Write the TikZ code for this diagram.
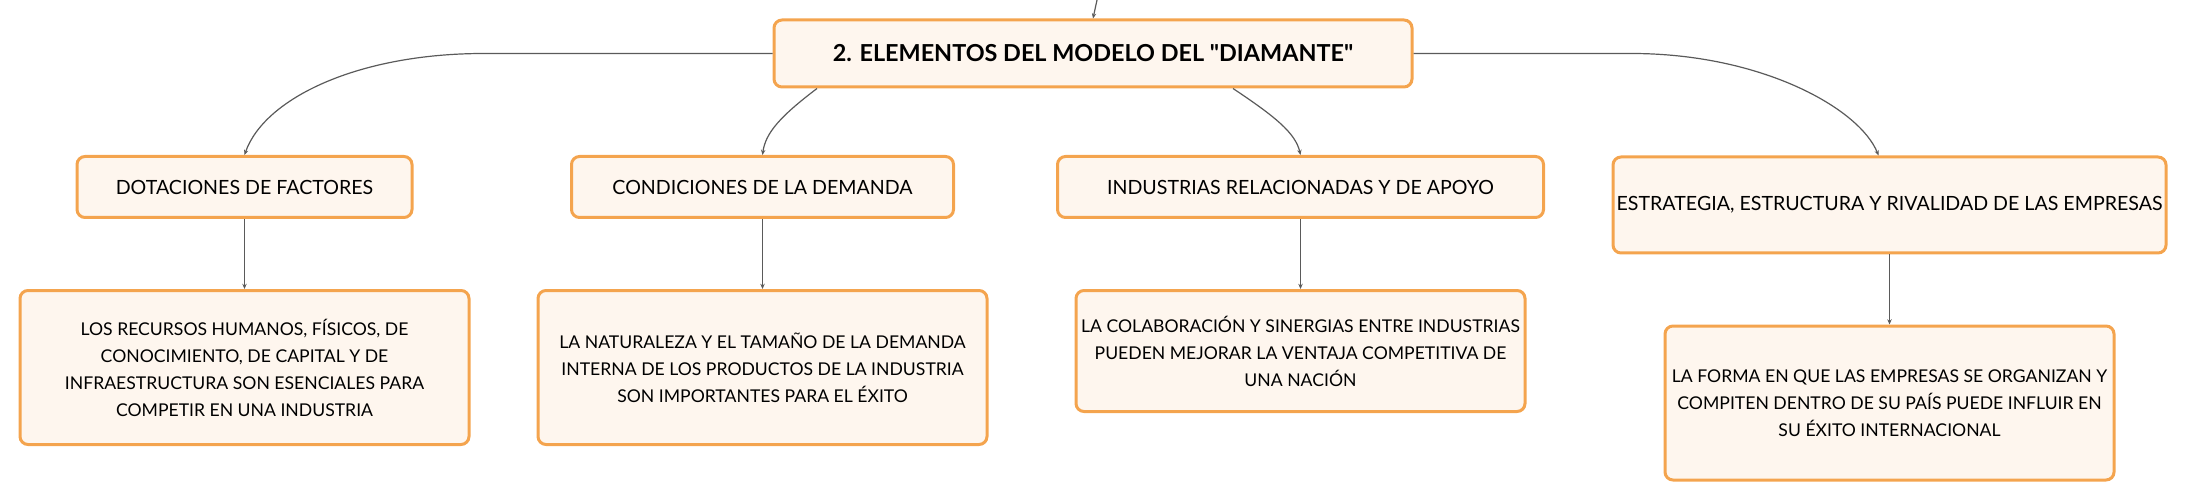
\documentclass[tikz,border=0pt]{standalone}
\usepackage{fontspec}
\setmainfont{Lato}
\newfontfamily\titulofont{Lato}[Ligatures=TeXOff]
\usepackage{tikz}
\usetikzlibrary{arrows.meta}
\definecolor{DiamanteBorde}{HTML}{F4A44E}
\definecolor{DiamanteFondo}{HTML}{FEF6EE}
\definecolor{DiamanteLinea}{HTML}{5A5A5A}
\newlength{\DetalleSep}
\setlength{\DetalleSep}{35pt}
\tikzset{/diamante/caja/.style={
	shape=rectangle, draw=DiamanteBorde, line width=1.5pt, fill=DiamanteFondo, rounded corners=4pt, align=center, inner sep=0pt, font=\fontsize{9.8}{12}\selectfont
}}
\tikzset{/diamante/titulo/.style={/diamante/caja, minimum width=319pt, minimum height=33.5pt, font=\titulofont\fontsize{11.7}{14}\selectfont\bfseries
}}
\tikzset{/diamante/factor/.style={/diamante/caja, minimum height=30.5pt
}}
\tikzset{/diamante/detalle/.style={/diamante/caja, minimum width=224.5pt, minimum height=77pt, font=\fontsize{8.8}{13.5}\selectfont
}}
\tikzset{/diamante/enlace/.style={draw=DiamanteLinea, line width=0.6pt, >={Stealth[length=2.6pt, width=2.2pt]}
}}

\begin{document}
\begin{tikzpicture}[x=0.5pt, y=-0.5pt]
			\useasboundingbox (0,0) rectangle (2188,497);
			\coordinate (arriba) at (1097,0);
			\path (1093,53.5) node[/diamante/titulo] (main) {2. ELEMENTOS DEL MODELO DEL "DIAMANTE"};
			\path (244.5,187) node[/diamante/factor, minimum width=167.5pt] (f1) {DOTACIONES DE FACTORES};
			\path (762.5,187) node[/diamante/factor, minimum width=191pt] (f2) {CONDICIONES DE LA DEMANDA};
			\path (1300.5,187) node[/diamante/factor, minimum width=243pt] (f3) {INDUSTRIAS RELACIONADAS Y DE APOYO};
			\path (1889.5,205) node[/diamante/factor, minimum width=276.5pt, minimum height=48pt] (f4) {ESTRATEGIA, ESTRUCTURA Y RIVALIDAD DE LAS EMPRESAS};
			\path (f1.south) ++ (0, -\DetalleSep) node[anchor=north, /diamante/detalle] (d1) {LOS RECURSOS HUMANOS, FÍSICOS, DE\\CONOCIMIENTO, DE CAPITAL Y DE\\INFRAESTRUCTURA SON ESENCIALES PARA\\COMPETIR EN UNA INDUSTRIA} edge[/diamante/enlace, <-] (f1);
			\path (f2.south) ++ (0, -\DetalleSep) node[anchor=north, /diamante/detalle] (d2) {LA NATURALEZA Y EL TAMAÑO DE LA DEMANDA\\INTERNA DE LOS PRODUCTOS DE LA INDUSTRIA\\SON IMPORTANTES PARA EL ÉXITO} edge[/diamante/enlace, <-] (f2);
			\path (f3.south) ++ (0, -\DetalleSep) node[anchor=north, /diamante/detalle, minimum height=60.5pt] (d3) {LA COLABORACIÓN Y SINERGIAS ENTRE INDUSTRIAS\\PUEDEN MEJORAR LA VENTAJA COMPETITIVA DE\\UNA NACIÓN} edge[/diamante/enlace, <-] (f3);
			\path (f4.south) ++ (0, -\DetalleSep) node[anchor=north, /diamante/detalle] (d4) {LA FORMA EN QUE LAS EMPRESAS SE ORGANIZAN Y\\COMPITEN DENTRO DE SU PAÍS PUEDE INFLUIR EN\\SU ÉXITO INTERNACIONAL} edge[/diamante/enlace, <-] (f4);
			% ramas del titulo
			\draw[/diamante/enlace, ->] (arriba) -- (main.north);
			\draw[/diamante/enlace, ->] (main.west) -- ++(-289,0) .. controls +(-125,0) and +(20,-57) .. (f1.north);
			\draw[/diamante/enlace, ->] ([xshift=-138pt]main.south) .. controls +(-37,28) and +(3,-22) .. (f2.north);
			\draw[/diamante/enlace, ->] ([xshift=70pt]main.south) .. controls +(42,28) and +(-5,-22) .. (f3.north);
			\draw[/diamante/enlace, ->] (main.east) -- ++(218,0) .. controls +(130,0) and +(-19,-47) .. ([xshift=-5.5pt]f4.north);
		\end{tikzpicture}
\end{document}
